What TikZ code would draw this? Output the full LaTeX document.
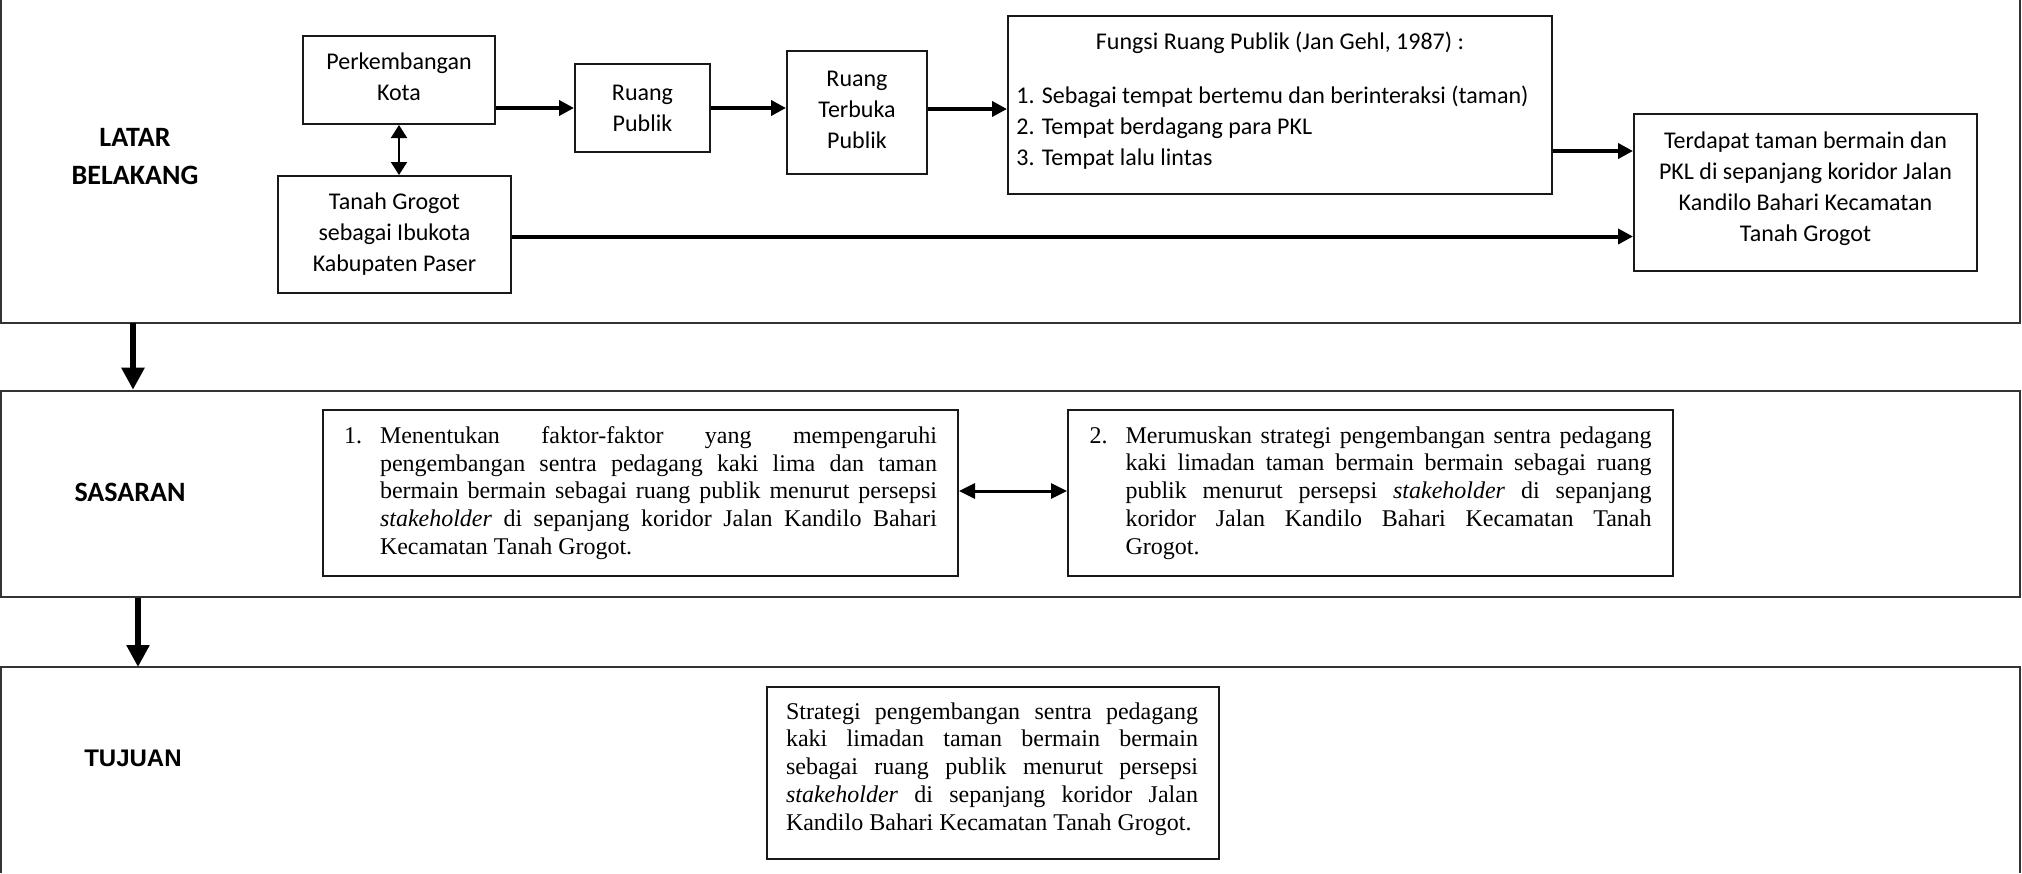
\documentclass[tikz,border=0pt]{standalone}
\usepackage{fontspec}
\setmainfont{Liberation Serif}
\newfontfamily\calfont{Carlito}
\newfontfamily\arifont{Liberation Sans}
\usetikzlibrary{arrows.meta}
\newcommand{\serifset}{\fontsize{12}{13.9}\selectfont\tolerance=10000 \pretolerance=-1 \hyphenpenalty=10000 \exhyphenpenalty=10000 }
\begin{document}
\begin{tikzpicture}[x=0.5pt,y=-0.5pt,
  sz/.style 2 args={minimum width=#1*0.5pt, minimum height=#2*0.5pt},
  box/.style={draw=black!90, line width=1pt, inner sep=0pt, rectangle},
  frame/.style={draw=black!80, line width=1.3pt, inner sep=0pt},
  sans/.style={font=\calfont\fontsize{12}{15.5}\selectfont, align=center},
  serif/.style={font=\serifset, align=justify},
  lab/.style={font=\calfont\bfseries\fontsize{14}{19}\selectfont, align=center, inner sep=0pt},
  arr/.style={line width=2pt, -{Triangle[length=7.5pt,width=7.5pt]}},
  bigarr/.style={line width=3pt, -{Triangle[length=11pt,width=11pt]}},
  dbl/.style={line width=1pt, {Triangle[length=6.5pt,width=8pt]}-{Triangle[length=6.5pt,width=8pt]}},
  dblb/.style={line width=1.5pt, {Triangle[length=8pt,width=7.5pt]}-{Triangle[length=8pt,width=7.5pt]}}
]
\useasboundingbox (0,0) rectangle (2022,873);

% section frames
\draw[frame] (1,0) -- (1,323) -- (2020,323) -- (2020,0);
\coordinate (l1) at (133,323);
\node[frame, sz={2019}{206}] (sas) at (1010.5,494) {};
\draw[frame] (1,873) -- (1,667) -- (2020,667) -- (2020,873);
\coordinate (t1) at (138,667);

% labels
\node[lab] (lblatar) at (135,157) {LATAR\\BELAKANG};
\node[lab] (lbsas) at (130,492) {SASARAN};
\node[inner sep=0pt, font=\arifont\bfseries\fontsize{12}{14}\selectfont] (lbtuj) at (133,758) {TUJUAN};

% LATAR BELAKANG boxes
\node[box, sz={192}{88}] (perk) at (399,80) {};
\node[sans, inner sep=0pt] (perkt) at (399,77) {Perkembangan\\Kota};
\node[box, sans, sz={135}{88}] (rp) at (642.5,108) {Ruang\\Publik};
\node[box, sz={140}{123}] (rtp) at (857,112.5) {};
\node[sans, inner sep=0pt] (rtpt) at (857,110) {Ruang\\Terbuka\\Publik};
\node[box, sz={544}{178}] (fungsi) at (1280,105) {};
\node[sans, inner sep=0pt] (ftitle) at (1280,43) {Fungsi Ruang Publik (Jan Gehl, 1987) :};
\node[sans, align=left, anchor=west, inner sep=0pt] (fitems) at (1016,128) {1. Sebagai tempat bertemu dan berinteraksi (taman)\\2. Tempat berdagang para PKL\\3. Tempat lalu lintas};
\node[box, sz={343}{157}] (terd) at (1805.5,192.5) {};
\node[sans, inner sep=0pt] (terdt) at (1805.5,188.5) {Terdapat taman bermain dan\\PKL di sepanjang koridor Jalan\\Kandilo Bahari Kecamatan\\Tanah Grogot};
\node[box, sans, sz={233}{117}] (tanah) at (394.5,234.5) {Tanah Grogot\\sebagai Ibukota\\Kabupaten Paser};

\draw[arr] (perk.east |- rp.west) -- (rp.west);
\draw[arr] (rp.east) -- (rp.east -| rtp.west);
\draw[arr] ([yshift=1.75pt]rtp.east) -- ([yshift=1.75pt]rtp.east -| fungsi.west);
\draw[arr] ([yshift=-23pt]fungsi.east) coordinate (f1) -- (f1 -| terd.west);
\draw[arr] ([yshift=-1pt]tanah.east) coordinate (g1) -- (g1 -| terd.west);
\draw[dbl] (perk.south) -- (perk.south |- tanah.north);

% SASARAN boxes
\node[box, serif, sz={635}{166}, text width=296.5pt] (s1) at (640.5,493) {\hangindent=18pt\hangafter=1\noindent\makebox[18pt][l]{1.}Menentukan faktor-faktor yang mempengaruhi\linebreak pengembangan sentra pedagang kaki lima dan taman\linebreak bermain bermain sebagai ruang publik menurut persepsi\linebreak \emph{stakeholder} di sepanjang koridor Jalan Kandilo Bahari\linebreak Kecamatan Tanah Grogot.\par};
\node[box, serif, sz={605}{166}, text width=281pt] (s2) at (1370.5,493) {\hangindent=18pt\hangafter=1\noindent\makebox[18pt][l]{2.}Merumuskan strategi pengembangan sentra pedagang\linebreak kaki limadan taman bermain bermain sebagai ruang\linebreak publik menurut persepsi \emph{stakeholder} di sepanjang\linebreak koridor Jalan Kandilo Bahari Kecamatan Tanah\linebreak Grogot.\par};
\draw[dblb] ([yshift=1pt]s1.east) -- ([yshift=1pt]s2.west);

% TUJUAN box
\node[box, sz={452}{172}] (tj) at (993,773) {};
\node[serif, text width=206pt, inner sep=0pt] (tjt) at (992,769) {\noindent Strategi pengembangan sentra pedagang\linebreak kaki limadan taman bermain bermain\linebreak sebagai ruang publik menurut persepsi\linebreak \emph{stakeholder} di sepanjang koridor Jalan\linebreak Kandilo Bahari Kecamatan Tanah Grogot.\par};

% section connectors
\draw[bigarr] (l1) -- (sas.north -| l1);
\draw[bigarr] (sas.south -| t1) -- (t1);
\end{tikzpicture}
\end{document}
